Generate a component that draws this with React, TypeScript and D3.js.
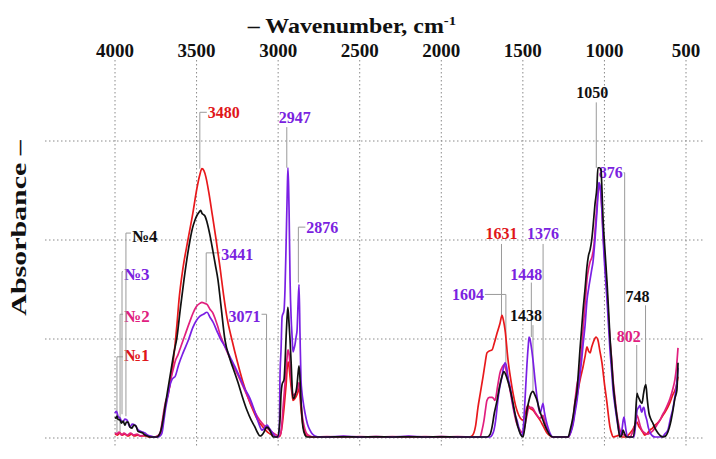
import React from "react";
import * as d3 from "d3";

type P = [number, number];

const tickLabels = [4000, 3500, 3000, 2500, 2000, 1500, 1000, 500];
const gridValues = [0, 1, 2, 3];

const flat = (vals: number[]): P[] => {
  const w = [2700, 2600, 2500, 2400, 2300, 2200, 2100, 2000, 1900];
  return w.map((wn, i) => [wn, vals[i % vals.length]] as P);
};

const series1: P[] = [
  [4000, 0.04], [3985, 0.03], [3970, 0.05], [3955, 0.03], [3940, 0.04], [3920, 0.02], [3900, 0.04], [3880, 0.02], [3860, 0.03], [3840, 0.02], [3815, 0.02], [3790, 0.01], [3760, 0.01], [3735, 0.02], [3718, 0.06], [3706, 0.18], [3690, 0.33], [3675, 0.45], [3663, 0.54], [3645, 0.75], [3632, 0.94], [3620, 1.15], [3608, 1.39], [3583, 1.72], [3553, 2.0], [3522, 2.28], [3497, 2.53], [3480, 2.66], [3467, 2.72], [3455, 2.7], [3442, 2.63], [3425, 2.48], [3405, 2.27], [3380, 2.0], [3356, 1.72], [3335, 1.45], [3313, 1.21], [3283, 0.99], [3250, 0.77], [3215, 0.56], [3185, 0.41], [3154, 0.28], [3125, 0.18], [3093, 0.11], [3065, 0.06], [3038, 0.03], [3000, 0.01],
  [2989, 0.02], [2976, 0.12], [2964, 0.3], [2952, 0.52], [2940, 0.77], [2933, 0.72], [2927, 0.62], [2915, 0.45], [2909, 0.38], [2897, 0.4], [2884, 0.44], [2872, 0.5], [2866, 0.42], [2860, 0.3], [2848, 0.13], [2835, 0.05], [2823, 0.02], [2790, 0.01],
  ...flat([0.01, 0.015]), [1830, 0.01],
  [1812, 0.02], [1790, 0.12], [1775, 0.31], [1760, 0.46], [1744, 0.62], [1730, 0.77], [1720, 0.86], [1705, 0.88], [1689, 0.89], [1675, 0.96], [1658, 1.06], [1640, 1.16], [1628, 1.24], [1618, 1.18], [1609, 1.09], [1591, 0.79], [1575, 0.6], [1560, 0.45], [1545, 0.33], [1530, 0.25], [1515, 0.2], [1499, 0.18], [1485, 0.25], [1469, 0.33], [1455, 0.3], [1438, 0.28], [1420, 0.24], [1395, 0.18], [1375, 0.12], [1352, 0.05], [1330, 0.02], [1315, 0.01],
  [1280, 0.01], [1250, 0.01], [1223, 0.01], [1205, 0.07], [1193, 0.15], [1175, 0.35], [1162, 0.48], [1145, 0.62], [1131, 0.72], [1118, 0.83], [1107, 0.92], [1098, 0.88], [1088, 0.86], [1078, 0.92], [1070, 0.96], [1060, 1.0], [1052, 1.02], [1040, 0.99], [1028, 0.88], [1015, 0.76], [1000, 0.55], [984, 0.35], [975, 0.22], [966, 0.11], [955, 0.04], [947, 0.01], [925, 0.02], [905, 0.03], [890, 0.01], [874, 0.01], [860, 0.02], [843, 0.05], [825, 0.09], [813, 0.13], [800, 0.16], [790, 0.12], [782, 0.1], [765, 0.06], [752, 0.03], [735, 0.05], [721, 0.08], [705, 0.1], [690, 0.13], [675, 0.15], [660, 0.18], [645, 0.22], [629, 0.26], [612, 0.31], [598, 0.36], [580, 0.44], [568, 0.48], [556, 0.55], [549, 0.62],
];

const series2: P[] = [
  [4000, 0.05], [3988, 0.04], [3975, 0.06], [3960, 0.03], [3945, 0.05], [3925, 0.03], [3905, 0.05], [3885, 0.03], [3865, 0.04], [3845, 0.02], [3820, 0.03], [3795, 0.02], [3765, 0.01], [3740, 0.02], [3724, 0.05], [3712, 0.15], [3700, 0.28], [3688, 0.38], [3675, 0.43], [3660, 0.58], [3644, 0.69], [3630, 0.78], [3614, 0.84], [3595, 0.93], [3571, 1.04], [3545, 1.16], [3522, 1.26], [3500, 1.33], [3480, 1.36], [3467, 1.37], [3450, 1.36], [3436, 1.35], [3418, 1.3], [3399, 1.26], [3385, 1.2], [3369, 1.12], [3355, 1.04], [3338, 0.97], [3310, 0.86], [3277, 0.74], [3245, 0.63], [3215, 0.52], [3185, 0.41], [3154, 0.3], [3125, 0.21], [3099, 0.15], [3068, 0.1], [3038, 0.06], [3010, 0.03], [2995, 0.02],
  [2983, 0.05], [2970, 0.3], [2958, 0.55], [2946, 0.8], [2940, 0.89], [2933, 0.85], [2927, 0.74], [2918, 0.55], [2909, 0.43], [2900, 0.44], [2890, 0.46], [2880, 0.5], [2872, 0.56], [2866, 0.48], [2860, 0.36], [2850, 0.2], [2842, 0.13], [2830, 0.06], [2817, 0.03], [2786, 0.01],
  ...flat([0.015, 0.01]), [1800, 0.01],
  [1763, 0.01], [1750, 0.08], [1738, 0.18], [1728, 0.3], [1720, 0.38], [1705, 0.41], [1689, 0.41], [1680, 0.4], [1671, 0.38], [1655, 0.52], [1640, 0.66], [1625, 0.72], [1616, 0.74], [1605, 0.7], [1591, 0.59], [1575, 0.45], [1560, 0.31], [1540, 0.16], [1518, 0.08], [1499, 0.05], [1481, 0.18], [1462, 0.31], [1450, 0.31], [1438, 0.3], [1425, 0.26], [1413, 0.23], [1395, 0.2], [1377, 0.23], [1365, 0.16], [1352, 0.1], [1335, 0.04], [1321, 0.01],
  [1280, 0.01], [1250, 0.01], [1223, 0.01], [1205, 0.08], [1193, 0.18], [1180, 0.38], [1168, 0.54], [1158, 0.62], [1150, 0.71], [1140, 0.88], [1131, 1.09], [1118, 1.36], [1107, 1.6], [1096, 1.72], [1088, 1.78], [1076, 1.83], [1064, 1.95], [1055, 2.15], [1046, 2.35], [1038, 2.5], [1034, 2.56], [1027, 2.53], [1021, 2.45], [1015, 2.3], [1009, 2.1], [997, 1.78], [984, 1.47], [975, 1.22], [966, 0.99], [955, 0.78], [947, 0.59], [935, 0.4], [923, 0.23], [913, 0.14], [905, 0.08], [893, 0.05], [880, 0.03], [862, 0.02], [843, 0.01], [830, 0.05], [819, 0.1], [813, 0.13], [800, 0.23], [790, 0.18], [782, 0.13], [770, 0.08], [752, 0.05], [735, 0.04], [721, 0.05], [705, 0.07], [690, 0.1], [675, 0.14], [660, 0.18], [645, 0.23], [629, 0.28], [612, 0.34], [598, 0.4], [580, 0.5], [568, 0.59], [558, 0.72], [549, 0.91],
];

const series3: P[] = [
  [4000, 0.25], [3994, 0.27], [3988, 0.26], [3982, 0.22], [3969, 0.2], [3960, 0.17], [3951, 0.16], [3940, 0.19], [3926, 0.18], [3915, 0.13], [3908, 0.11], [3895, 0.14], [3877, 0.13], [3862, 0.09], [3847, 0.07], [3830, 0.06], [3816, 0.05], [3800, 0.03], [3785, 0.02], [3760, 0.01], [3736, 0.01], [3724, 0.02], [3712, 0.05], [3700, 0.18], [3690, 0.3], [3681, 0.38], [3665, 0.52], [3651, 0.59], [3640, 0.61], [3632, 0.62], [3610, 0.74], [3583, 0.86], [3550, 0.99], [3522, 1.12], [3500, 1.19], [3479, 1.23], [3458, 1.25], [3436, 1.27], [3418, 1.22], [3399, 1.17], [3375, 1.08], [3356, 1.01], [3325, 0.92], [3295, 0.82], [3265, 0.72], [3234, 0.61], [3205, 0.5], [3173, 0.4], [3150, 0.3], [3130, 0.2], [3115, 0.13], [3099, 0.08], [3085, 0.1], [3068, 0.13], [3055, 0.1], [3038, 0.06], [3025, 0.03], [3013, 0.01], [3000, 0.01],
  [2992, 0.1], [2989, 0.59], [2982, 0.9], [2976, 1.22], [2964, 1.29], [2958, 1.5], [2952, 1.9], [2944, 2.5], [2940, 2.73], [2936, 2.55], [2933, 2.3], [2927, 1.6], [2920, 1.2], [2915, 1.04], [2909, 0.87], [2903, 0.9], [2897, 0.94], [2890, 1.02], [2884, 1.09], [2878, 1.35], [2872, 1.55], [2866, 1.05], [2860, 0.59], [2854, 0.46], [2848, 0.38], [2835, 0.25], [2820, 0.14], [2805, 0.08], [2790, 0.04], [2774, 0.02], [2743, 0.01],
  ...flat([0.01, 0.02, 0.01, 0.015]), [1800, 0.01], [1720, 0.01],
  [1701, 0.01], [1689, 0.03], [1677, 0.08], [1665, 0.2], [1658, 0.31], [1645, 0.48], [1628, 0.62], [1618, 0.72], [1609, 0.76], [1600, 0.72], [1590, 0.6], [1579, 0.52], [1560, 0.33], [1545, 0.22], [1536, 0.18], [1520, 0.07], [1505, 0.02], [1495, 0.15], [1487, 0.38], [1475, 0.74], [1466, 0.95], [1462, 1.02], [1456, 1.0], [1450, 0.94], [1438, 0.79], [1425, 0.58], [1413, 0.41], [1403, 0.3], [1395, 0.25], [1385, 0.3], [1377, 0.35], [1368, 0.26], [1358, 0.18], [1345, 0.1], [1334, 0.05], [1315, 0.01],
  [1280, 0.01], [1250, 0.01], [1223, 0.01], [1205, 0.06], [1193, 0.13], [1180, 0.26], [1168, 0.38], [1158, 0.52], [1150, 0.64], [1140, 0.78], [1131, 0.94], [1118, 1.15], [1107, 1.39], [1096, 1.52], [1088, 1.6], [1078, 1.7], [1070, 1.78], [1058, 2.0], [1046, 2.28], [1038, 2.5], [1034, 2.58], [1027, 2.55], [1021, 2.45], [1015, 2.28], [1009, 2.05], [997, 1.7], [984, 1.39], [975, 1.14], [966, 0.89], [955, 0.66], [947, 0.48], [935, 0.32], [923, 0.18], [913, 0.08], [905, 0.03], [893, 0.08], [885, 0.18], [880, 0.21], [874, 0.15], [868, 0.08], [856, 0.01], [840, 0.01], [819, 0.01], [810, 0.12], [800, 0.28], [790, 0.31], [782, 0.33], [776, 0.28], [770, 0.26], [764, 0.3], [758, 0.31], [750, 0.24], [740, 0.18], [730, 0.1], [721, 0.06], [705, 0.02], [690, 0.01], [670, 0.01], [647, 0.01], [630, 0.04], [611, 0.08], [595, 0.2], [580, 0.3], [565, 0.45], [555, 0.58], [549, 0.71],
];

const series4: P[] = [
  [4000, 0.21], [3994, 0.2], [3988, 0.22], [3982, 0.19], [3969, 0.18], [3960, 0.15], [3950, 0.17], [3939, 0.13], [3930, 0.16], [3920, 0.16], [3908, 0.11], [3896, 0.1], [3885, 0.13], [3871, 0.12], [3860, 0.07], [3847, 0.06], [3830, 0.05], [3816, 0.03], [3800, 0.02], [3785, 0.01], [3765, 0.01], [3743, 0.01], [3730, 0.03], [3724, 0.05], [3715, 0.1], [3706, 0.18], [3690, 0.35], [3675, 0.5], [3663, 0.62], [3640, 0.85], [3620, 1.02], [3600, 1.3], [3577, 1.6], [3560, 1.8], [3540, 2.0], [3525, 2.12], [3510, 2.2], [3497, 2.25], [3485, 2.28], [3475, 2.3], [3467, 2.27], [3461, 2.26], [3448, 2.24], [3436, 2.18], [3418, 2.05], [3399, 1.88], [3385, 1.75], [3369, 1.6], [3350, 1.33], [3326, 0.99], [3300, 0.82], [3275, 0.7], [3246, 0.56], [3220, 0.42], [3191, 0.28], [3165, 0.18], [3142, 0.11], [3125, 0.05], [3111, 0.02], [3100, 0.03], [3087, 0.06], [3075, 0.1], [3068, 0.11], [3055, 0.09], [3043, 0.05], [3031, 0.01], [3005, 0.01],
  [2989, 0.18], [2982, 0.45], [2976, 0.54], [2964, 0.59], [2958, 0.75], [2952, 0.99], [2944, 1.25], [2940, 1.32], [2933, 1.15], [2927, 0.99], [2920, 0.75], [2915, 0.54], [2909, 0.4], [2903, 0.4], [2897, 0.43], [2890, 0.47], [2884, 0.54], [2878, 0.65], [2872, 0.73], [2866, 0.6], [2860, 0.38], [2854, 0.22], [2848, 0.11], [2835, 0.03], [2823, 0.01],
  ...flat([0.01, 0.012]), [1800, 0.01], [1740, 0.01],
  [1720, 0.01], [1700, 0.04], [1689, 0.11], [1675, 0.25], [1658, 0.38], [1645, 0.5], [1628, 0.62], [1616, 0.67], [1605, 0.64], [1591, 0.57], [1575, 0.47], [1560, 0.35], [1545, 0.22], [1530, 0.11], [1515, 0.04], [1499, 0.01], [1487, 0.12], [1475, 0.28], [1465, 0.36], [1456, 0.42], [1438, 0.47], [1425, 0.43], [1413, 0.38], [1398, 0.28], [1383, 0.21], [1368, 0.14], [1352, 0.08], [1335, 0.03], [1315, 0.01],
  [1280, 0.01], [1250, 0.01], [1223, 0.01], [1210, 0.08], [1193, 0.21], [1180, 0.36], [1168, 0.48], [1158, 0.7], [1150, 0.89], [1140, 1.1], [1131, 1.29], [1118, 1.52], [1107, 1.73], [1098, 1.84], [1088, 1.9], [1078, 2.0], [1070, 2.13], [1058, 2.36], [1046, 2.54], [1040, 2.73], [1030, 2.73], [1021, 2.71], [1015, 2.5], [1009, 2.23], [997, 1.9], [984, 1.57], [975, 1.3], [966, 1.02], [955, 0.75], [947, 0.56], [935, 0.36], [923, 0.21], [913, 0.08], [905, 0.01], [893, 0.03], [886, 0.08], [880, 0.06], [870, 0.02], [862, 0.01], [840, 0.01], [825, 0.01], [812, 0.15], [800, 0.45], [794, 0.42], [788, 0.4], [780, 0.37], [770, 0.35], [760, 0.45], [752, 0.52], [746, 0.54], [738, 0.4], [727, 0.25], [715, 0.19], [703, 0.15], [690, 0.1], [672, 0.05], [655, 0.02], [641, 0.01], [625, 0.02], [611, 0.06], [595, 0.15], [580, 0.28], [568, 0.4], [556, 0.48], [549, 0.76],
];

const seriesNames = ["№1", "№2", "№3", "№4"];
const seriesData = [series1, series2, series3, series4];
const lineColors = ["#e8191c", "#e11f7e", "#7a1fe4", "#111111"];

// peak annotations: label, wavenumber, colour index, leader top/bottom (absorbance units)
const peakLabels = ["3480", "2947", "2876", "3441", "3071", "1631", "1376", "1448", "1604", "1438", "1050", "876", "748", "802"];
const peakWn = [3480, 2947, 2876, 3441, 3071, 1631, 1376, 1448, 1604, 1438, 1050, 876, 748, 802];
const peakColor = [0, 2, 2, 2, 2, 0, 2, 2, 2, 3, 3, 2, 3, 1];
const peakTop = [3.29, 3.14, 2.13, 1.87, 1.25, 1.96, 1.96, 1.57, 1.45, 1.14, 3.39, 2.68, 1.34, 0.94];
const peakBottom = [2.72, 2.73, 1.57, 1.37, 0.11, 1.24, 0.35, 1.02, 0.72, 0.48, 2.73, 0.21, 0.54, 0.23];

const nameWn = [3988, 3969, 3957, 3933];
const nameTop = [0.82, 1.25, 1.68, 2.07];
const nameBottom = [0.04, 0.05, 0.24, 0.22];

const textColors = ["#e0161a", "#e0207f", "#7a22e0", "#111111"];

// layout for annotations (not data)
const peakLayout: { kind: string; d: number; dy: number }[] = [
  { kind: "right", d: 7, dy: 6 },
  { kind: "above", d: 8, dy: -4 },
  { kind: "right", d: 7, dy: 6 },
  { kind: "right", d: 14, dy: 7 },
  { kind: "left", d: 5, dy: 8 },
  { kind: "above", d: 0, dy: -5 },
  { kind: "above", d: 0, dy: -5 },
  { kind: "above", d: -5, dy: -3 },
  { kind: "left", d: 21, dy: 6 },
  { kind: "above", d: -7, dy: -4 },
  { kind: "above", d: -4, dy: -4 },
  { kind: "left", d: 1, dy: 5 },
  { kind: "above", d: -8, dy: -3 },
  { kind: "above", d: -8, dy: -3 },
];
const nameLayout = [
  { d: 6, dy: 4 },
  { d: 3, dy: 8 },
  { d: 1, dy: 8 },
  { d: 5, dy: 9 },
];

const FONT = "'Liberation Serif', 'Times New Roman', serif";

export default function App() {
  const W = 716;
  const H = 459;
  const x = d3.scaleLinear().domain([4000, 500]).range([115, 686]);
  const y = d3.scaleLinear().domain([0, 4]).range([438, 42]);
  const line = d3
    .line<P>()
    .x((d) => x(d[0]))
    .y((d) => y(d[1]))
    .curve(d3.curveMonotoneX);

  const leader = "#9a9a9a";

  return (
    <svg
      width={W}
      height={H}
      style={{ position: "absolute", left: 0, top: 0, background: "#fff" }}
      fontFamily={FONT}
    >
      <rect x={0} y={0} width={W} height={H} fill="#fff" />
      {gridValues.map((g) => (
        <line key={"h" + g} x1={45} x2={705} y1={y(g)} y2={y(g)} stroke="#8a8a8a" strokeWidth={1} strokeDasharray="1.5,2.5" />
      ))}
      {tickLabels.map((t) => (
        <line key={"v" + t} x1={x(t)} x2={x(t)} y1={60} y2={447} stroke="#8a8a8a" strokeWidth={1} strokeDasharray="1.5,2.5" />
      ))}
      {tickLabels.map((t) => (
        <text key={"t" + t} x={x(t)} y={57} textAnchor="middle" fontWeight="bold" fontSize={19} fill="#111">
          {t}
        </text>
      ))}
      <g transform="translate(352,33) scale(1.14,1)">
        <text x={0} y={0} textAnchor="middle" fontWeight="bold" fontSize={21} fill="#111">
          {"\u2013 Wavenumber, cm"}
          <tspan dy={-8} fontSize={13}>-1</tspan>
        </text>
      </g>
      <g transform="translate(26,228) rotate(-90) scale(1.36,1)">
        <text x={0} y={0} textAnchor="middle" fontWeight="bold" fontSize={22} fill="#111">
          {"Absorbance \u2013"}
        </text>
      </g>

      {seriesNames.map((n, i) => {
        const lx = x(nameWn[i]);
        const ty = y(nameTop[i]);
        const L = nameLayout[i];
        return (
          <g key={"n" + i}>
            <line x1={lx} x2={lx} y1={ty} y2={y(nameBottom[i])} stroke={leader} strokeWidth={1} />
            <line x1={lx} x2={lx + L.d} y1={ty} y2={ty} stroke={leader} strokeWidth={1} />
            <text x={lx + L.d + 1} y={ty + L.dy} fontWeight="bold" fontSize={17} fill={textColors[i]}>
              {n}
            </text>
          </g>
        );
      })}

      {peakLabels.map((p, i) => {
        const lx = x(peakWn[i]);
        const ty = y(peakTop[i]);
        const L = peakLayout[i];
        const col = textColors[peakColor[i]];
        let tx = lx;
        let anchor: "start" | "middle" | "end" = "middle";
        let hx1 = lx;
        let hx2 = lx;
        if (L.kind === "right") {
          hx2 = lx + L.d;
          tx = lx + L.d + 1;
          anchor = "start";
        } else if (L.kind === "left") {
          hx1 = lx - L.d;
          tx = lx - L.d - 1;
          anchor = "end";
        } else {
          tx = lx + L.d;
        }
        return (
          <g key={"p" + i}>
            <line x1={lx} x2={lx} y1={ty} y2={y(peakBottom[i])} stroke={leader} strokeWidth={1} />
            {hx1 !== hx2 && <line x1={hx1} x2={hx2} y1={ty} y2={ty} stroke={leader} strokeWidth={1} />}
            <text x={tx} y={ty + L.dy} textAnchor={anchor} fontWeight="bold" fontSize={16} fill={col}>
              {p}
            </text>
          </g>
        );
      })}

      {seriesData.map((s, i) => (
        <path key={"s" + i} d={line(s) || ""} fill="none" stroke={lineColors[i]} strokeWidth={1.7} strokeLinejoin="round" />
      ))}
    </svg>
  );
}
